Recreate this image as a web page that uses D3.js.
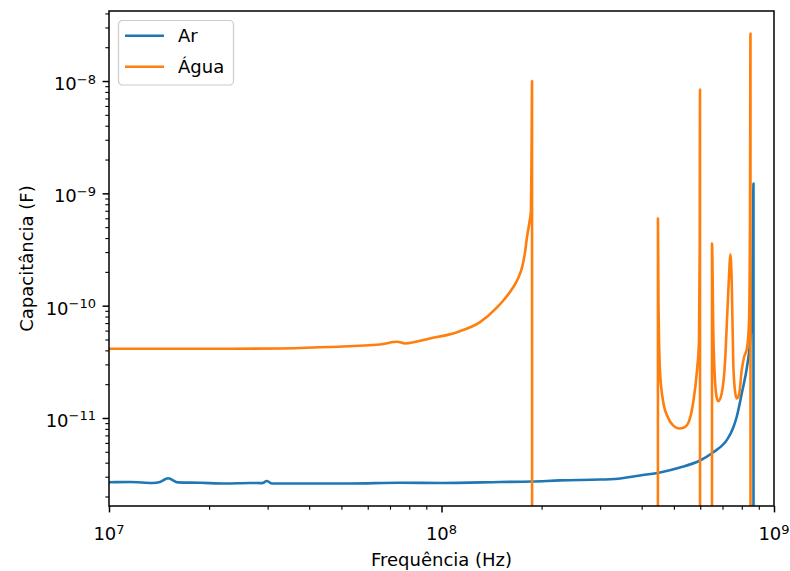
<!DOCTYPE html>
<html>
<head>
<meta charset="utf-8">
<script src="https://cdn.jsdelivr.net/npm/d3@7"></script>
<style>
  html, body { margin: 0; padding: 0; background: #fff; }
  svg { display: block; }
  text { font-family: "DejaVu Sans", sans-serif; fill: #000; }
</style>
</head>
<body>
<svg id="chart" width="790" height="571"></svg>
<script>
// Capacitance vs frequency, log-log. Negative capacitance (past a resonance)
// cannot be shown on a log axis, so those samples are clipped below the plot.

const seriesNames = ["Ar", "Água"];
const seriesColors = ["#1f77b4", "#ff7f0e"];

// Ar (air)
const arFreq = [
  1.0e7, 1.157e7, 1.356e7, 1.423e7, 1.505e7, 1.613e7, 1.878e7, 2.233e7, 2.655e7,
  2.884e7, 2.985e7, 3.09e7, 3.753e7, 5.306e7, 7.5e7, 1.0e8, 1.5e8, 1.872e8,
  2.272e8, 3.0e8, 3.325e8, 3.954e8, 4.541e8, 5.215e8, 5.99e8, 6.555e8, 7.12e8,
  7.236e8, 7.543e8, 7.722e8, 7.995e8, 8.323e8, 8.467e8, 8.585e8, 8.645e8,
  8.675e8, 8.705e8, 8.75e8
];
const arCap = [
  2.68e-12, 2.69e-12, 2.64e-12, 2.69e-12, 2.91e-12, 2.67e-12, 2.65e-12, 2.61e-12, 2.64e-12,
  2.63e-12, 2.75e-12, 2.61e-12, 2.61e-12, 2.61e-12, 2.65e-12, 2.64e-12, 2.69e-12, 2.72e-12,
  2.78e-12, 2.83e-12, 2.86e-12, 3.08e-12, 3.27e-12, 3.62e-12, 4.18e-12, 4.93e-12, 6.05e-12,
  6.45e-12, 8.23e-12, 1.02e-11, 1.64e-11, 3.04e-11, 4.58e-11, 9.0e-11, 4.0e-10,
  1.22e-9, -1.0e-9, -1.0e-9
];

// Água (water)
const aguaFreq = [
  1.0e7, 2.0e7, 3.268e7, 4.62e7, 6.53e7, 7.35e7, 7.77e7, 9.23e7, 1.113e8, 1.306e8,
  1.469e8, 1.552e8, 1.641e8, 1.699e8, 1.747e8, 1.783e8, 1.807e8, 1.840e8, 1.858e8,
  1.866e8, 1.872e8, 1.88e8,
  4.462e8, 4.477e8, 4.493e8, 4.54e8, 4.636e8, 4.80e8, 4.97e8, 5.18e8, 5.363e8,
  5.514e8, 5.708e8, 5.867e8, 5.949e8, 5.978e8, 5.99e8, 6.01e8,
  6.486e8, 6.51e8, 6.567e8, 6.646e8, 6.724e8, 6.80e8, 6.96e8, 7.12e8, 7.236e8,
  7.337e8, 7.388e8, 7.46e8, 7.543e8, 7.632e8, 7.722e8, 7.862e8, 7.995e8, 8.123e8,
  8.295e8, 8.41e8, 8.467e8, 8.496e8, 8.526e8, 8.75e8
];
const aguaCap = [
  4.13e-11, 4.13e-11, 4.16e-11, 4.29e-11, 4.51e-11, 4.77e-11, 4.61e-11, 5.1e-11, 5.81e-11, 7.13e-11,
  9.64e-11, 1.158e-10, 1.45e-10, 1.747e-10, 2.19e-10, 2.976e-10, 4.05e-10, 5.62e-10, 7.04e-10,
  2.41e-9, 1.0e-8, -1.0e-9,
  -1.0e-9, 5.96e-10, 1.112e-10, 2.65e-11, 1.432e-11, 1.01e-11, 8.58e-12, 8.06e-12, 8.22e-12,
  8.93e-12, 1.346e-11, 2.65e-11, 4.9e-11, 3.1e-10, 8.4e-9, -1.0e-9,
  -1.0e-9, 3.57e-10, 6.02e-11, 2.16e-11, 1.53e-11, 1.41e-11, 1.65e-11, 3.06e-11, 8.52e-11,
  2.06e-10, 2.86e-10, 1.68e-10, 3.06e-11, 1.76e-11, 1.49e-11, 1.65e-11, 2.65e-11, 3.46e-11,
  4.2e-11, 7.0e-11, 5.0e-10, 2.65e-8, -1.0e-9, -1.0e-9
];

const xMajorTicks = [1e7, 1e8, 1e9];
const xTickExponents = ["7", "8", "9"];
const yMajorTicks = [1e-11, 1e-10, 1e-9, 1e-8];
const yTickExponents = ["\u221211", "\u221210", "\u22129", "\u22128"];

const xLabel = "Frequência (Hz)";
const yLabel = "Capacitância (F)";

// ---- layout ----
const W = 790, H = 571;
const plot = { left: 109, right: 774, top: 11, bottom: 506 };
const fontSize = 18;

const svg = d3.select("#chart");

const series = [
  { name: seriesNames[0], color: seriesColors[0], pts: arFreq.map((f, i) => [f, arCap[i]]) },
  { name: seriesNames[1], color: seriesColors[1], pts: aguaFreq.map((f, i) => [f, aguaCap[i]]) }
];

// y limits: positive data range with 5% padding in log space
const positives = series.flatMap(s => s.pts.map(p => p[1])).filter(v => v > 0);
const lo = Math.log10(d3.min(positives)), hi = Math.log10(d3.max(positives));
const pad = (hi - lo) * 0.05;

const x = d3.scaleLog().domain([1e7, 1e9]).range([plot.left, plot.right]);
const y = d3.scaleLog().domain([Math.pow(10, lo - pad), Math.pow(10, hi + pad)]).range([plot.bottom, plot.top]);

// clip region for data lines
svg.append("defs").append("clipPath").attr("id", "plotClip")
  .append("rect")
  .attr("x", plot.left).attr("y", plot.top)
  .attr("width", plot.right - plot.left).attr("height", plot.bottom - plot.top);

// ---- data lines ----
const line = d3.line()
  .x(d => x(d[0]))
  .y(d => d[1] > 0 ? y(d[1]) : plot.bottom + 5000)
  .curve(d3.curveMonotoneX);

const linesG = svg.append("g").attr("clip-path", "url(#plotClip)");
series.forEach(s => {
  linesG.append("path")
    .datum(s.pts)
    .attr("d", line)
    .attr("fill", "none")
    .attr("stroke", s.color)
    .attr("stroke-width", 2.6)
    .attr("stroke-linejoin", "round")
    .attr("stroke-linecap", "butt");
});

// ---- minor tick values ----
function minorTicks(scale) {
  const [a, b] = scale.domain();
  const out = [];
  for (let e = Math.floor(Math.log10(Math.min(a, b))); e <= Math.ceil(Math.log10(Math.max(a, b))); e++) {
    for (let m = 2; m <= 9; m++) {
      const v = m * Math.pow(10, e);
      if (v >= Math.min(a, b) && v <= Math.max(a, b)) out.push(v);
    }
  }
  return out;
}

// ---- axes ticks ----
const xMinorAxis = d3.axisBottom(x).tickValues(minorTicks(x)).tickSize(3.7).tickFormat("");
const xMajorAxis = d3.axisBottom(x).tickValues(xMajorTicks).tickSize(6.4).tickFormat("");
const yMinorAxis = d3.axisLeft(y).tickValues(minorTicks(y)).tickSize(3.7).tickFormat("");
const yMajorAxis = d3.axisLeft(y).tickValues(yMajorTicks).tickSize(6.4).tickFormat("");

function styleAxis(g, w) {
  g.select(".domain").remove();
  g.selectAll(".tick line").attr("stroke", "#000").attr("stroke-width", w);
}
svg.append("g").attr("transform", `translate(0,${plot.bottom})`).call(xMinorAxis).call(g => styleAxis(g, 1.1));
svg.append("g").attr("transform", `translate(0,${plot.bottom})`).call(xMajorAxis).call(g => styleAxis(g, 1.5));
svg.append("g").attr("transform", `translate(${plot.left},0)`).call(yMinorAxis).call(g => styleAxis(g, 1.1));
svg.append("g").attr("transform", `translate(${plot.left},0)`).call(yMajorAxis).call(g => styleAxis(g, 1.5));

// ---- tick labels (10 with superscript exponent) ----
const supSize = 13;
const supRise = 6.5;

xMajorTicks.forEach((v, i) => {
  const t = svg.append("text")
    .attr("x", x(v))
    .attr("y", 540)
    .attr("text-anchor", "middle")
    .attr("font-size", fontSize);
  t.append("tspan").text("10");
  t.append("tspan").attr("font-size", supSize).attr("dy", -supRise).text(xTickExponents[i]);
});

yMajorTicks.forEach((v, i) => {
  const t = svg.append("text")
    .attr("x", 96)
    .attr("y", y(v) + 9)
    .attr("text-anchor", "end")
    .attr("font-size", fontSize);
  t.append("tspan").text("10");
  t.append("tspan").attr("font-size", supSize).attr("dy", -supRise).text(yTickExponents[i]);
});

// ---- spines ----
svg.append("rect")
  .attr("x", plot.left).attr("y", plot.top)
  .attr("width", plot.right - plot.left).attr("height", plot.bottom - plot.top)
  .attr("fill", "none").attr("stroke", "#000").attr("stroke-width", 1.5);

// ---- axis labels ----
svg.append("text")
  .attr("x", (plot.left + plot.right) / 2)
  .attr("y", 566)
  .attr("text-anchor", "middle")
  .attr("font-size", fontSize)
  .text(xLabel);

svg.append("text")
  .attr("transform", `translate(33,${(plot.top + plot.bottom) / 2}) rotate(-90)`)
  .attr("text-anchor", "middle")
  .attr("font-size", fontSize)
  .text(yLabel);

// ---- legend ----
const lg = svg.append("g").attr("transform", "translate(118.5,20.5)");
lg.append("rect")
  .attr("width", 115).attr("height", 64.5)
  .attr("rx", 4).attr("ry", 4)
  .attr("fill", "#fff").attr("fill-opacity", 0.8)
  .attr("stroke", "#cccccc").attr("stroke-width", 1.2);
series.forEach((s, i) => {
  const yy = 15.2 + i * 31;
  lg.append("line")
    .attr("x1", 6.5).attr("x2", 45.5)
    .attr("y1", yy).attr("y2", yy)
    .attr("stroke", s.color).attr("stroke-width", 2.6);
  lg.append("text")
    .attr("x", 59.5).attr("y", yy + 6.5)
    .attr("font-size", fontSize)
    .text(s.name);
});
</script>
</body>
</html>
